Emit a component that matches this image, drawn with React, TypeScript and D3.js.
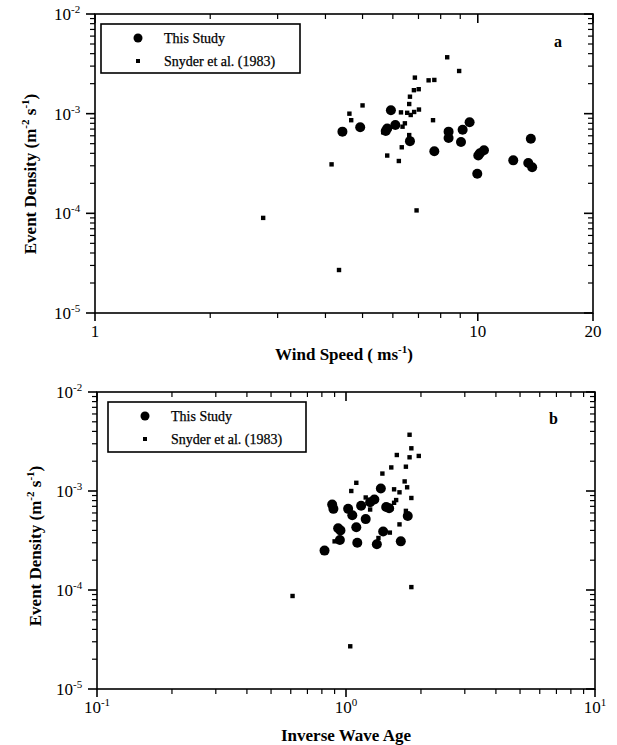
import React from "react";
import * as d3 from "d3";

// Panel a: wind speed (m/s) vs event density
const windStudy = [4.43, 4.93, 5.93, 5.80, 5.75, 6.09, 6.65, 7.70, 8.39, 8.39, 9.13, 9.04, 9.52, 10.03, 10.38, 10.13, 9.97, 12.38, 13.55, 13.87, 13.76];
const densStudyA = [6.6e-4, 7.3e-4, 1.08e-3, 7.1e-4, 6.7e-4, 7.7e-4, 5.3e-4, 4.2e-4, 6.6e-4, 5.7e-4, 6.9e-4, 5.2e-4, 8.2e-4, 3.8e-4, 4.3e-4, 4.0e-4, 2.5e-4, 3.4e-4, 3.2e-4, 2.9e-4, 5.6e-4];
const windSnyder = [8.32, 8.94, 6.85, 7.44, 7.70, 6.81, 7.01, 6.65, 6.62, 5.00, 4.62, 4.67, 6.30, 6.54, 6.68, 6.82, 7.02, 7.64, 6.45, 6.36, 5.66, 6.62, 6.33, 5.80, 6.22, 4.15, 6.92, 4.34, 2.75];
const densSnyderA = [3.68e-3, 2.68e-3, 2.30e-3, 2.16e-3, 2.18e-3, 1.72e-3, 1.76e-3, 1.48e-3, 1.25e-3, 1.21e-3, 1.0e-3, 8.6e-4, 1.03e-3, 1.02e-3, 9.7e-4, 1.04e-3, 1.10e-3, 8.6e-4, 8.0e-4, 7.4e-4, 6.5e-4, 6.1e-4, 4.6e-4, 3.8e-4, 3.35e-4, 3.1e-4, 1.07e-4, 2.7e-5, 9.0e-5];

// Panel b: inverse wave age vs event density
const iwaStudy = [0.82, 0.945, 1.11, 1.33, 1.66, 1.41, 1.38, 1.45, 1.49, 1.77, 0.88, 0.89, 0.93, 0.95, 1.02, 1.06, 1.10, 1.15, 1.20, 1.25, 1.30];
const densStudyB = [2.5e-4, 3.2e-4, 3.0e-4, 2.9e-4, 3.1e-4, 3.9e-4, 1.06e-3, 6.9e-4, 6.7e-4, 5.6e-4, 7.3e-4, 6.6e-4, 4.2e-4, 4.0e-4, 6.6e-4, 5.7e-4, 4.3e-4, 7.1e-4, 5.2e-4, 7.7e-4, 8.2e-4];
const iwaSnyder = [1.80, 1.83, 1.60, 1.80, 1.96, 1.52, 1.74, 1.40, 1.72, 1.56, 1.64, 1.76, 1.83, 1.59, 1.56, 1.52, 1.74, 1.64, 0.61, 1.83, 1.04, 1.10, 1.05, 1.20, 1.25, 1.50, 1.35, 0.90];
const densSnyderB = [3.7e-3, 2.7e-3, 2.31e-3, 2.19e-3, 2.26e-3, 1.73e-3, 1.76e-3, 1.50e-3, 1.25e-3, 1.04e-3, 9.7e-4, 1.09e-3, 8.5e-4, 8.1e-4, 7.6e-4, 6.6e-4, 6.3e-4, 4.6e-4, 8.7e-5, 1.07e-4, 2.7e-5, 1.21e-3, 1.0e-3, 8.6e-4, 6.5e-4, 3.8e-4, 3.35e-4, 3.1e-4];

const yTickExps = [-2, -3, -4, -5];
const legendLabels = ["This Study", "Snyder et al. (1983)"];
const serif = "'Liberation Serif', 'Times New Roman', serif";

type TickLabel = { v: number; base: string; sup?: string };

function Panel(props: {
  xDomain: [number, number];
  x0: number; x1: number; y0: number; y1: number;
  xMajor: number[]; xMinor: number[]; xLabels: TickLabel[];
  xTitle: React.ReactNode; xTitleY: number;
  yTitleX: number; yTitleY: number;
  tag: string; tagX: number; tagY: number;
  legend: { x: number; y: number; w: number; h: number };
  cx: number[]; cy: number[]; sx: number[]; sy: number[];
}) {
  const p = props;
  const xs = d3.scaleLog().domain(p.xDomain).range([p.x0, p.x1]);
  const ys = d3.scaleLog().domain([1e-5, 1e-2]).range([p.y1, p.y0]);
  const yMinor: number[] = [];
  [-5, -4, -3].forEach((e) => { for (let k = 2; k <= 9; k++) yMinor.push(k * Math.pow(10, e)); });
  const lw = 1.6;
  return (
    <g fontFamily={serif}>
      <rect x={p.x0} y={p.y0} width={p.x1 - p.x0} height={p.y1 - p.y0} fill="none" stroke="#000" strokeWidth={lw} />
      {yTickExps.map((e) => {
        const y = ys(Math.pow(10, e));
        return (
          <g key={"ym" + e}>
            <line x1={p.x0 - 9} x2={p.x0} y1={y} y2={y} stroke="#000" strokeWidth={lw} />
            <line x1={p.x1 - 9} x2={p.x1} y1={y} y2={y} stroke="#000" strokeWidth={lw} />
            <text x={p.x0 - 24} y={y + 6} fontSize={17} textAnchor="end">10</text>
            <text x={p.x0 - 24} y={y - 1} fontSize={11} textAnchor="start">{e}</text>
          </g>
        );
      })}
      {yMinor.map((v, i) => {
        const y = ys(v);
        return (
          <g key={"yn" + i}>
            <line x1={p.x0 - 5} x2={p.x0} y1={y} y2={y} stroke="#000" strokeWidth={1.2} />
            <line x1={p.x1 - 5} x2={p.x1} y1={y} y2={y} stroke="#000" strokeWidth={1.2} />
          </g>
        );
      })}
      {p.xMajor.map((v, i) => {
        const x = xs(v);
        return (
          <g key={"xm" + i}>
            <line x1={x} x2={x} y1={p.y1} y2={p.y1 + 8} stroke="#000" strokeWidth={lw} />
            <line x1={x} x2={x} y1={p.y0} y2={p.y0 + 9} stroke="#000" strokeWidth={lw} />
          </g>
        );
      })}
      {p.xMinor.map((v, i) => {
        const x = xs(v);
        return (
          <g key={"xn" + i}>
            <line x1={x} x2={x} y1={p.y1} y2={p.y1 + 5} stroke="#000" strokeWidth={1.2} />
            <line x1={x} x2={x} y1={p.y0} y2={p.y0 + 5} stroke="#000" strokeWidth={1.2} />
          </g>
        );
      })}
      {p.xLabels.map((l, i) => (
        <text key={"xl" + i} x={xs(l.v)} y={p.y1 + 24} fontSize={17} textAnchor="middle">
          {l.base}
          {l.sup !== undefined && <tspan fontSize={11} dy={-7}>{l.sup}</tspan>}
        </text>
      ))}
      <text x={(p.x0 + p.x1) / 2} y={p.xTitleY} fontSize={17} fontWeight="bold" textAnchor="middle">{p.xTitle}</text>
      <text transform={`translate(${p.yTitleX},${p.yTitleY}) rotate(-90)`} fontSize={17} fontWeight="bold" textAnchor="middle">
        Event Density  (m<tspan fontSize={11} dy={-7}>-2</tspan><tspan dy={7}> s</tspan><tspan fontSize={11} dy={-7}>-1</tspan><tspan dy={7}>)</tspan>
      </text>
      <text x={p.tagX} y={p.tagY} fontSize={16} fontWeight="bold">{p.tag}</text>
      <rect x={p.legend.x} y={p.legend.y} width={p.legend.w} height={p.legend.h} fill="#fff" stroke="#000" strokeWidth={lw} />
      <circle cx={p.legend.x + 37} cy={p.legend.y + 14} r={4.5} fill="#000" />
      <rect x={p.legend.x + 35} y={p.legend.y + 35} width={4} height={4} fill="#000" />
      <text x={p.legend.x + 63} y={p.legend.y + 19} fontSize={14} stroke="#000" strokeWidth={0.25}>{legendLabels[0]}</text>
      <text x={p.legend.x + 63} y={p.legend.y + 42} fontSize={14} stroke="#000" strokeWidth={0.25}>{legendLabels[1]}</text>
      {p.sx.map((v, i) => (
        <rect key={"s" + i} x={xs(v) - 2.2} y={ys(p.sy[i]) - 2.2} width={4.4} height={4.4} fill="#000" />
      ))}
      {p.cx.map((v, i) => (
        <circle key={"c" + i} cx={xs(v)} cy={ys(p.cy[i])} r={5} fill="#000" />
      ))}
    </g>
  );
}

export default function App() {
  const minorA = [2, 3, 4, 5, 6, 7, 8, 9];
  const minorB: number[] = [];
  [0.1, 1].forEach((b) => { for (let k = 2; k <= 9; k++) minorB.push(k * b); });
  return (
    <svg width={617} height={745} style={{ position: "absolute", left: 0, top: 0, background: "#fff" }}>
      <rect width={617} height={745} fill="#fff" />
      <Panel
        xDomain={[1, 20]} x0={95} x1={593} y0={14} y1={313}
        xMajor={[1, 10, 20]} xMinor={minorA}
        xLabels={[{ v: 1, base: "1" }, { v: 10, base: "10" }, { v: 20, base: "20" }]}
        xTitle={<>Wind Speed ( ms<tspan fontSize={11} dy={-7}>-1</tspan><tspan dy={7}>)</tspan></>}
        xTitleY={360}
        yTitleX={36} yTitleY={174}
        tag="a" tagX={554} tagY={47}
        legend={{ x: 101, y: 24, w: 199, h: 49 }}
        cx={windStudy} cy={densStudyA} sx={windSnyder} sy={densSnyderA}
      />
      <Panel
        xDomain={[0.1, 10]} x0={97} x1={595} y0={392} y1={689}
        xMajor={[0.1, 1, 10]} xMinor={minorB}
        xLabels={[{ v: 0.1, base: "10", sup: "-1" }, { v: 1, base: "10", sup: "0" }, { v: 10, base: "10", sup: "1" }]}
        xTitle="Inverse Wave Age"
        xTitleY={741}
        yTitleX={41} yTitleY={546}
        tag="b" tagX={549} tagY={424}
        legend={{ x: 108, y: 402, w: 198, h: 50 }}
        cx={iwaStudy} cy={densStudyB} sx={iwaSnyder} sy={densSnyderB}
      />
    </svg>
  );
}
